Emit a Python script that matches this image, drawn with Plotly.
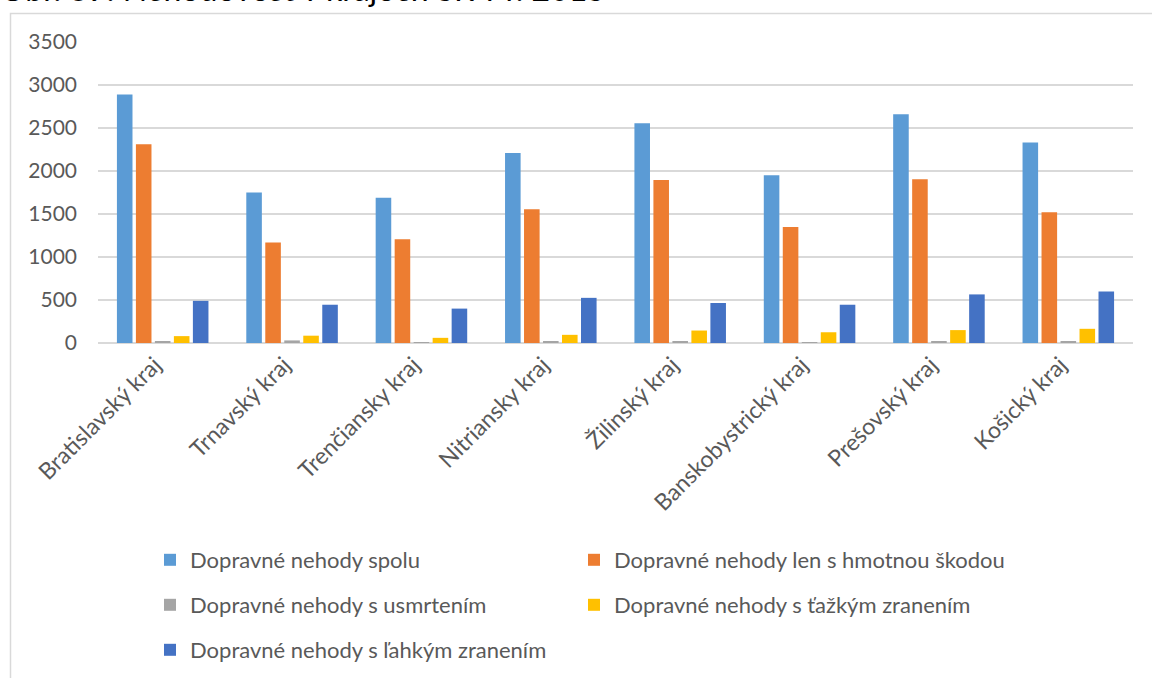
import plotly.graph_objects as go

kraje = ["Bratislavský kraj", "Trnavský kraj", "Trenčiansky kraj", "Nitriansky kraj",
         "Žilinský kraj", "Banskobystrický kraj", "Prešovský kraj", "Košický kraj"]

spolu = [2890, 1750, 1690, 2210, 2555, 1950, 2660, 2330]
hmotnou_skodou = [2310, 1170, 1205, 1555, 1895, 1350, 1905, 1520]
usmrtenim = [12, 30, 10, 12, 23, 10, 20, 18]
tazkym_zranenim = [80, 85, 60, 95, 145, 125, 150, 165]
lahkym_zranenim = [490, 445, 400, 525, 465, 445, 565, 600]

series_names = ["Dopravné nehody spolu", "Dopravné nehody len s hmotnou škodou",
                "Dopravné nehody s usmrtením", "Dopravné nehody s ťažkým zranením",
                "Dopravné nehody s ľahkým zranením"]
series_values = [spolu, hmotnou_skodou, usmrtenim, tazkym_zranenim, lahkym_zranenim]
series_colors = ["#5B9BD5", "#ED7D31", "#A5A5A5", "#FFC000", "#4472C4"]
series_legends = ["legend", "legend2", "legend3", "legend4", "legend5"]

y_ticks = [0, 500, 1000, 1500, 2000, 2500, 3000, 3500]
title_text = "Obr. 39: Nehodovosť v krajoch SR v r. 2015"

FONT = "Lato"
GREY = "#595959"

W, H = 1152, 678
L, R, T, B = 98, 19, 42, 335
pw, ph = W - L - R, H - T - B

def px_x(x):
    return (x - L) / pw

def px_y(y):
    return (H - B - y) / ph

fig = go.Figure()
for name, vals, col, lg in zip(series_names, series_values, series_colors, series_legends):
    fig.add_trace(go.Bar(x=kraje, y=vals, name=name, legend=lg,
                         marker=dict(color=col, line=dict(width=0)),
                         hoverinfo="skip"))

legend_common = dict(orientation="h", font=dict(family=FONT, size=22, color=GREY),
                     itemwidth=30, xanchor="left", yanchor="middle",
                     bgcolor="rgba(0,0,0,0)")

C1, C2 = 150, 574
R1, R2, R3 = 560, 605, 650
fig.update_layout(
    width=W, height=H,
    margin=dict(l=L, r=R, t=T, b=B, autoexpand=False),
    paper_bgcolor="white", plot_bgcolor="white",
    barmode="group", bargap=0.266, bargroupgap=0.18,
    showlegend=True,
    legend=dict(x=px_x(C1), y=px_y(R1), **legend_common),
    legend2=dict(x=px_x(C2), y=px_y(R1), **legend_common),
    legend3=dict(x=px_x(C1), y=px_y(R2), **legend_common),
    legend4=dict(x=px_x(C2), y=px_y(R2), **legend_common),
    legend5=dict(x=px_x(C1), y=px_y(R3), **legend_common),
    xaxis=dict(tickangle=-45, tickfont=dict(family=FONT, size=23, color=GREY),
               showgrid=False, showline=False, ticks="",
               ticklabelstandoff=3, ticklabelshift=-8),
    yaxis=dict(range=[0, 3500], tickvals=y_ticks,
               tickfont=dict(family=FONT, size=21, color=GREY),
               showgrid=True, gridcolor="#D9D9D9", gridwidth=1.5,
               zeroline=True, zerolinecolor="#D9D9D9", zerolinewidth=1.5,
               showline=False, ticks="", ticklabelstandoff=20),
    shapes=[dict(type="rect", xref="paper", yref="paper",
                 x0=px_x(10.5), x1=px_x(1200), y0=px_y(720), y1=px_y(13.5),
                 line=dict(color="#D9D9D9", width=1.5), fillcolor="rgba(0,0,0,0)",
                 layer="below")],
    annotations=[dict(text=title_text, xref="paper", yref="paper",
                      x=px_x(-2), y=px_y(10), xanchor="left", yanchor="bottom",
                      showarrow=False, font=dict(family=FONT, size=32, color="#000000"))],
)

fig.write_html("out.html", config={"displayModeBar": False},
               post_script="document.body.style.margin='0';document.body.style.overflow='hidden';")
